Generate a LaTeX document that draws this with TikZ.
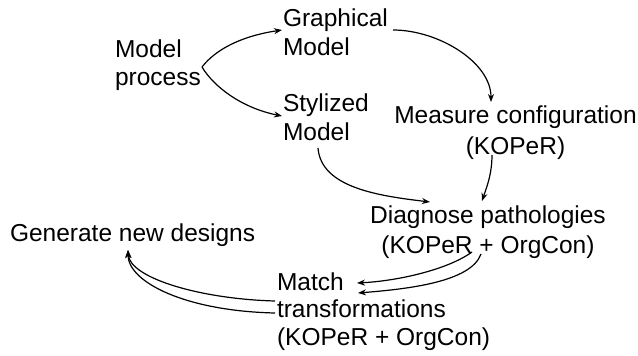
\documentclass[tikz,border=0pt]{standalone}
\usepackage{fontspec}
\setmainfont{Liberation Sans}
\usetikzlibrary{arrows.meta,calc}

\begin{document}
\begin{tikzpicture}[x=1pt,y=-1pt,
  label text/.style={inner sep=0pt,outer sep=0pt,
    font=\fontsize{24.5pt}{29pt}\selectfont},
  lead/.style={font=\fontsize{24.5pt}{#1}\selectfont},
  flow/.style={line width=1.2pt,-{Stealth[length=8pt,width=6pt]}}]
\useasboundingbox (0,0) rectangle (638,356);

% stages of the process (anchored on the baseline of the last line)
\node[label text,lead=28pt,anchor=base west,align=left] (mp) at (115,85) {Model\\process};
\node[label text,anchor=base west,align=left] (gm) at (283,56) {Graphical\\Model};
\node[label text,anchor=base west,align=left] (sm) at (283,140) {Stylized\\Model};
\node[label text,lead=31pt,anchor=base,align=center] (mc) at (515.5,154) {Measure configuration\\(KOPeR)};
\node[label text,lead=30pt,anchor=base,align=center] (dp) at (488,253) {Diagnose pathologies\\(KOPeR + OrgCon)};
\node[label text,anchor=base west] (gn) at (10,241) {Generate new designs};
\node[label text,lead=27.5pt,anchor=base west,align=left] (mt) at (277,345) {Match\\transformations\\(KOPeR + OrgCon)};

% model process splits into two models
\draw[flow] ($(mp.base west)+(87,-18)$) .. controls +(14,-18) and +(-40,6) .. ($(gm.base west)+(-1,-26)$);
\draw[flow] ($(mp.base west)+(87,-18)$) .. controls +(12,20) and +(-40,-8) .. ($(sm.base west)+(-1,-24)$);

% graphical model to measurement
\draw[flow] ($(gm.base west)+(110,-26)$) .. controls +(45,0) and +(0,-40) .. ($(mc.base)+(-24.5,-52)$);

% both branches feed the diagnosis
\draw[flow] ($(sm.base west)+(35,8)$) .. controls +(3,40) and +(-50,-6) .. ($(dp.base)+(-58,-51)$);
\draw[flow] ($(mc.base)+(-23.5,1)$) .. controls +(0,20) and +(4,-12) .. ($(dp.base)+(-6,-52)$);

% diagnosis to matching transformations
\draw[flow] ($(dp.base)+(-16,-1)$) .. controls +(-25,18) and +(40,-2) .. ($(mt.base west)+(80,-62)$);
\draw[flow] ($(dp.base)+(-7,1)$) .. controls +(-10,28) and +(50,-4) .. ($(mt.base west)+(81,-52)$);

% matching transformations leads to new designs
\draw[flow] ($(mt.base west)+(-2,-44)$) .. controls +(-75,-2) and +(2,28) .. ($(gn.base west)+(118,9)$);
\draw[flow] ($(mt.base west)+(-2,-32)$) .. controls +(-90,-2) and +(0,32) .. ($(gn.base west)+(118,9)$);
\end{tikzpicture}
\end{document}
